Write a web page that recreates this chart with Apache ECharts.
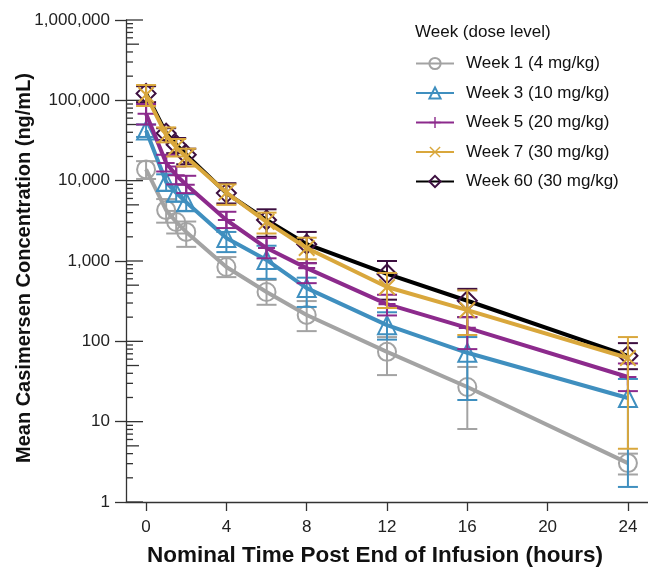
<!DOCTYPE html>
<html>
<head>
<meta charset="utf-8">
<script src="https://cdn.jsdelivr.net/npm/echarts@6/dist/echarts.min.js"></script>
<style>
html,body{margin:0;padding:0;background:#fff;}
#chart{width:648px;height:568px;}
</style>
</head>
<body>
<div id="chart"></div>
<script>
// ---- data ----
const times = [0, 1, 1.5, 2, 4, 6, 8, 12, 16, 24];
const xTickValues = [0, 4, 8, 12, 16, 20, 24];
const yMajorTicks = [1, 10, 100, 1000, 10000, 100000, 1000000];
const yMinorMultipliers = [2, 3, 4, 5, 6, 7, 8, 9];

const seriesNames = ['Week 1 (4 mg/kg)', 'Week 3 (10 mg/kg)', 'Week 5 (20 mg/kg)', 'Week 7 (30 mg/kg)', 'Week 60 (30 mg/kg)'];

const week1Mean  = [13800, 4300, 3060, 2300, 842, 411, 213, 74, 27, 3.05];
const week1Upper = [17500, 5900, 4200, 3100, 1120, 580, 317, 113, 48, 4.0];
const week1Lower = [10500, 3000, 2200, 1500, 630, 285, 134, 38, 8.1, 2.2];

const week3Mean  = [42000, 9600, 7050, 5400, 1930, 1030, 460, 159, 72, 19.7];
const week3Upper = [50000, 12000, 9000, 6800, 2300, 1550, 620, 230, 113, 34];
const week3Lower = [35000, 7500, 5500, 4200, 1290, 600, 268, 105, 18.6, 1.54];

const week5Mean  = [68000, 16600, 11700, 8900, 3240, 1450, 815, 290, 147, 36];
const week5Upper = [90000, 21000, 15000, 11500, 4100, 1930, 940, 380, 200, 53];
const week5Lower = [50000, 13000, 9000, 7000, 2570, 1080, 530, 210, 80, 24];

const week7Mean  = [117000, 37000, 26000, 19700, 7100, 3070, 1450, 475, 245, 62];
const week7Upper = [155000, 46000, 33000, 25000, 9000, 4000, 1950, 710, 430, 113];
const week7Lower = [85000, 30000, 20000, 15000, 5000, 2200, 1050, 260, 120, 4.6];

const week60Mean  = [122000, 39000, 28000, 21000, 7000, 3240, 1620, 690, 320, 66];
const week60Upper = [150000, 45000, 34000, 25000, 9300, 4400, 2300, 1000, 450, 95];
const week60Lower = [95000, 32000, 22000, 16000, 5200, 2000, 940, 330, 200, 45];

// ---- styles ----
const FONT = '"Liberation Sans", Arial, Helvetica, sans-serif';
const PLUS = 'path://M7,0H9V7H16V9H9V16H7V9H0V7H7Z';
const CROSS = 'path://M1.4,0L8,6.6L14.6,0L16,1.4L9.4,8L16,14.6L14.6,16L8,9.4L1.4,16L0,14.6L6.6,8L0,1.4Z';

const groups = [
  {name: seriesNames[0], mean: week1Mean, up: week1Upper, lo: week1Lower, line: '#a3a3a3', mark: '#a3a3a3', symbol: 'circle', hollow: true, size: 18, z: 3},
  {name: seriesNames[1], mean: week3Mean, up: week3Upper, lo: week3Lower, line: '#3f8fbf', mark: '#3f8fbf', symbol: 'triangle', hollow: true, size: 18, z: 4},
  {name: seriesNames[2], mean: week5Mean, up: week5Upper, lo: week5Lower, line: '#8c2a8c', mark: '#8c2a8c', symbol: PLUS, hollow: false, size: 17, z: 5},
  {name: seriesNames[3], mean: week7Mean, up: week7Upper, lo: week7Lower, line: '#d9a73c', mark: '#d9a73c', symbol: CROSS, hollow: false, size: 17, z: 6},
  {name: seriesNames[4], mean: week60Mean, up: week60Upper, lo: week60Lower, line: '#000000', mark: '#3d0f40', symbol: 'diamond', hollow: true, size: 19, z: 2}
];

const series = [];
groups.forEach(g => {
  series.push({
    type: 'custom',
    name: g.name + ' err',
    silent: true,
    z: g.z,
    clip: false,
    encode: {x: 0, y: [1, 2]},
    data: times.map((t, i) => [t, g.lo[i], g.up[i]]),
    renderItem: function (params, api) {
      const x = api.value(0);
      const p1 = api.coord([x, api.value(2)]);
      const p2 = api.coord([x, api.value(1)]);
      const hw = 10;
      const st = {stroke: g.mark, lineWidth: 2};
      return {type: 'group', children: [
        {type: 'line', shape: {x1: p1[0], y1: p1[1], x2: p2[0], y2: p2[1]}, style: st},
        {type: 'line', shape: {x1: p1[0] - hw, y1: p1[1], x2: p1[0] + hw, y2: p1[1]}, style: st},
        {type: 'line', shape: {x1: p2[0] - hw, y1: p2[1], x2: p2[0] + hw, y2: p2[1]}, style: st}
      ]};
    }
  });
  series.push({
    type: 'line',
    name: g.name,
    z: g.z,
    data: times.map((t, i) => [t, g.mean[i]]),
    symbol: g.symbol,
    symbolSize: g.size,
    showAllSymbol: true,
    lineStyle: {color: g.line, width: 4},
    itemStyle: g.hollow
      ? {color: 'rgba(255,255,255,0)', borderColor: g.mark, borderWidth: 2}
      : {color: g.mark, borderWidth: 0},
    emphasis: {disabled: true},
    animation: false
  });
});

// y axis inner ticks (major extension + minor ticks)
const innerTicks = [];
yMajorTicks.forEach((v, k) => {
  innerTicks.push([v, 17]);
  if (k < yMajorTicks.length - 1) {
    yMinorMultipliers.forEach(m => innerTicks.push([v * m, m === 5 ? 13 : 7]));
  }
});
series.push({
  type: 'custom',
  name: 'yticks',
  silent: true,
  clip: false,
  z: 1,
  encode: {y: 0},
  data: innerTicks,
  renderItem: function (params, api) {
    const p = api.coord([-1, api.value(0)]);
    const len = api.value(1);
    return {type: 'line', shape: {x1: p[0], y1: p[1], x2: p[0] + len, y2: p[1]}, style: {stroke: '#333', lineWidth: 1.3}};
  }
});

const chart = echarts.init(document.getElementById('chart'), null, {renderer: 'canvas'});
chart.setOption({
  animation: false,
  backgroundColor: '#ffffff',
  grid: {left: 126, right: 0, top: 20, bottom: 66, containLabel: false, outerBoundsMode: 'none'},
  title: {
    text: 'Week (dose level)',
    left: 415, top: 24, padding: 0,
    textStyle: {fontFamily: FONT, fontSize: 17, fontWeight: 'normal', color: '#111'}
  },
  legend: {
    data: seriesNames,
    orient: 'vertical',
    left: 415, top: 55, padding: 0,
    itemWidth: 38, itemHeight: 14, itemGap: 12.5,
    textStyle: {fontFamily: FONT, fontSize: 17, color: '#111', padding: [0, 0, 0, 7]},
    selectedMode: false
  },
  xAxis: {
    type: 'value',
    min: -1, max: 25,
    name: 'Nominal Time Post End of Infusion (hours)',
    nameLocation: 'middle',
    nameGap: 42,
    nameMoveOverlap: false,
    nameTextStyle: {fontFamily: FONT, fontSize: 22.5, fontWeight: 'bold', color: '#111', padding: [0, 24, 0, 0]},
    axisLine: {show: true, onZero: false, lineStyle: {color: '#333', width: 1.3}},
    axisTick: {show: true, length: 9, customValues: xTickValues, lineStyle: {color: '#333', width: 1.3}},
    axisLabel: {customValues: xTickValues, margin: 17, fontFamily: FONT, fontSize: 17, color: '#222'},
    splitLine: {show: false}
  },
  yAxis: {
    type: 'log',
    logBase: 10,
    min: 1, max: 1000000,
    name: 'Mean Casimersen Concentration (ng/mL)',
    nameLocation: 'middle',
    nameGap: 92,
    nameMoveOverlap: false,
    nameTextStyle: {fontFamily: FONT, fontSize: 20, fontWeight: 'bold', color: '#111', padding: [0, 14, 0, 0]},
    axisLine: {show: true, onZero: false, lineStyle: {color: '#333', width: 1.3}},
    axisTick: {show: true, length: 11, customValues: yMajorTicks, lineStyle: {color: '#333', width: 1.3}},
    axisLabel: {
      customValues: yMajorTicks,
      margin: 16, fontFamily: FONT, fontSize: 17, color: '#222',
      formatter: v => Number(v).toLocaleString('en-US')
    },
    splitLine: {show: false},
    minorTick: {show: false}
  },
  series: series
});
</script>
</body>
</html>
